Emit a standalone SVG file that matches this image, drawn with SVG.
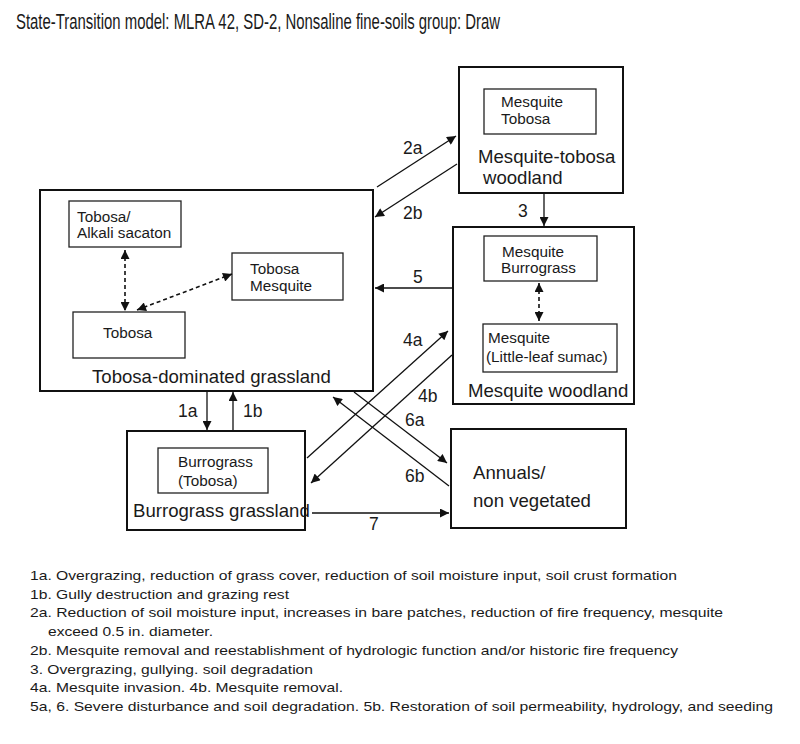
<svg xmlns="http://www.w3.org/2000/svg" width="800" height="744" viewBox="0 0 800 744">
<style>
text{font-family:"Liberation Sans",Arial,sans-serif;fill:#1a1a1a}
.state{fill:#fff;stroke:#111;stroke-width:2}
.inner{fill:#fff;stroke:#222;stroke-width:1.3}
.st{font-size:18.6px}
.in{font-size:15.3px}
.lb{font-size:17.5px}
.lg{font-size:13.5px}
.c{stroke:#111;stroke-width:1.3;fill:none}
.d{stroke:#111;stroke-width:1.6;fill:none;stroke-dasharray:4 3}
</style>
<defs>
<marker id="ah" viewBox="0 0 10 10" refX="10" refY="5" markerWidth="11" markerHeight="9" markerUnits="userSpaceOnUse" orient="auto-start-reverse">
<path d="M0,0 L10,5 L0,10 z" fill="#111"/>
</marker>
</defs>
<rect width="800" height="744" fill="#fff"/>
<text x="16" y="29" font-size="21.5" textLength="484" lengthAdjust="spacingAndGlyphs">State-Transition model: MLRA 42, SD-2, Nonsaline fine-soils group: Draw</text>

<g id="tobosa-grassland">
<rect class="state" x="40" y="190" width="333" height="201"/>
<text class="st" x="92" y="383">Tobosa-dominated grassland</text>
</g>
<g id="tobosa-alkali">
<rect class="inner" x="69" y="201" width="112" height="46"/>
<text class="in" x="77" y="222">Tobosa/</text>
<text class="in" x="77" y="238">Alkali sacaton</text>
</g>
<g id="tobosa-mesquite">
<rect class="inner" x="232" y="253" width="111" height="47"/>
<text class="in" x="250" y="274">Tobosa</text>
<text class="in" x="250" y="291">Mesquite</text>
</g>
<g id="tobosa">
<rect class="inner" x="73" y="312" width="112" height="46"/>
<text class="in" x="103" y="338">Tobosa</text>
</g>

<g id="mesquite-tobosa-woodland">
<rect class="state" x="459" y="67" width="164" height="126"/>
<rect class="inner" x="484" y="89" width="112" height="45"/>
<text class="in" x="501" y="107">Mesquite</text>
<text class="in" x="501" y="124">Tobosa</text>
<text class="st" x="478" y="163">Mesquite-tobosa</text>
<text class="st" x="483" y="184">woodland</text>
</g>

<g id="mesquite-woodland">
<rect class="state" x="453" y="227" width="181" height="177"/>
<text class="st" x="468" y="397">Mesquite woodland</text>
</g>
<g id="mesquite-burrograss">
<rect class="inner" x="484" y="236" width="113" height="45"/>
<text class="in" x="502" y="257">Mesquite</text>
<text class="in" x="501" y="273">Burrograss</text>
</g>
<g id="mesquite-sumac">
<rect class="inner" x="483" y="324" width="134" height="48"/>
<text class="in" x="488" y="343">Mesquite</text>
<text class="in" x="486" y="362">(Little-leaf sumac)</text>
</g>

<g id="burrograss-grassland">
<rect class="state" x="127" y="431" width="178" height="99"/>
<rect class="inner" x="158" y="448" width="110" height="45"/>
<text class="in" x="178" y="467">Burrograss</text>
<text class="in" x="178" y="486">(Tobosa)</text>
<text class="st" x="133" y="517">Burrograss grassland</text>
</g>

<g id="annuals">
<rect class="state" x="451" y="429" width="175" height="99"/>
<text class="st" x="473" y="479">Annuals/</text>
<text class="st" x="473" y="507">non vegetated</text>
</g>

<g id="connectors">
<line class="d" x1="125" y1="250" x2="125" y2="311" marker-start="url(#ah)" marker-end="url(#ah)"/>
<line class="d" x1="137" y1="310" x2="232" y2="274" marker-start="url(#ah)" marker-end="url(#ah)"/>
<line class="d" x1="539" y1="283" x2="539" y2="321" marker-start="url(#ah)" marker-end="url(#ah)"/>
<line class="c" x1="207" y1="391" x2="207" y2="430" marker-end="url(#ah)"/>
<line class="c" x1="233" y1="431" x2="233" y2="392" marker-end="url(#ah)"/>
<line class="c" x1="377" y1="187" x2="456" y2="136" marker-end="url(#ah)"/>
<line class="c" x1="457" y1="164" x2="375" y2="217" marker-end="url(#ah)"/>
<line class="c" x1="544" y1="193" x2="544" y2="226" marker-end="url(#ah)"/>
<line class="c" x1="453" y1="288" x2="375" y2="288" marker-end="url(#ah)"/>
<line class="c" x1="307" y1="458" x2="448" y2="331" marker-end="url(#ah)"/>
<line class="c" x1="452" y1="355" x2="311" y2="483" marker-end="url(#ah)"/>
<line class="c" x1="354" y1="392" x2="447" y2="463" marker-end="url(#ah)"/>
<line class="c" x1="449" y1="486" x2="333" y2="397" marker-end="url(#ah)"/>
<line class="c" x1="312" y1="513" x2="449" y2="513" marker-end="url(#ah)"/>
<text class="lb" x="178" y="417">1a</text>
<text class="lb" x="243" y="417">1b</text>
<text class="lb" x="403" y="154">2a</text>
<text class="lb" x="403" y="219">2b</text>
<text class="lb" x="518" y="217">3</text>
<text class="lb" x="413" y="283">5</text>
<text class="lb" x="403" y="346">4a</text>
<text class="lb" x="418" y="402">4b</text>
<text class="lb" x="405" y="426">6a</text>
<text class="lb" x="405" y="482">6b</text>
<text class="lb" x="369" y="530">7</text>
</g>

<g id="legend">
<text class="lg" x="30" y="580" textLength="647" lengthAdjust="spacingAndGlyphs">1a. Overgrazing, reduction of grass cover, reduction of soil moisture input, soil crust formation</text>
<text class="lg" x="30" y="599" textLength="259" lengthAdjust="spacingAndGlyphs">1b. Gully destruction and grazing rest</text>
<text class="lg" x="30" y="617" textLength="693" lengthAdjust="spacingAndGlyphs">2a. Reduction of soil moisture input, increases in bare patches, reduction of fire frequency, mesquite</text>
<text class="lg" x="48" y="636" textLength="165" lengthAdjust="spacingAndGlyphs">exceed 0.5 in. diameter.</text>
<text class="lg" x="30" y="655" textLength="648" lengthAdjust="spacingAndGlyphs">2b. Mesquite removal and reestablishment of hydrologic function and/or historic fire frequency</text>
<text class="lg" x="30" y="674" textLength="283" lengthAdjust="spacingAndGlyphs">3. Overgrazing, gullying. soil degradation</text>
<text class="lg" x="30" y="692" textLength="313" lengthAdjust="spacingAndGlyphs">4a. Mesquite invasion. 4b. Mesquite removal.</text>
<text class="lg" x="30" y="711" textLength="743" lengthAdjust="spacingAndGlyphs">5a, 6. Severe disturbance and soil degradation. 5b. Restoration of soil permeability, hydrology, and seeding</text>
</g>
</svg>
